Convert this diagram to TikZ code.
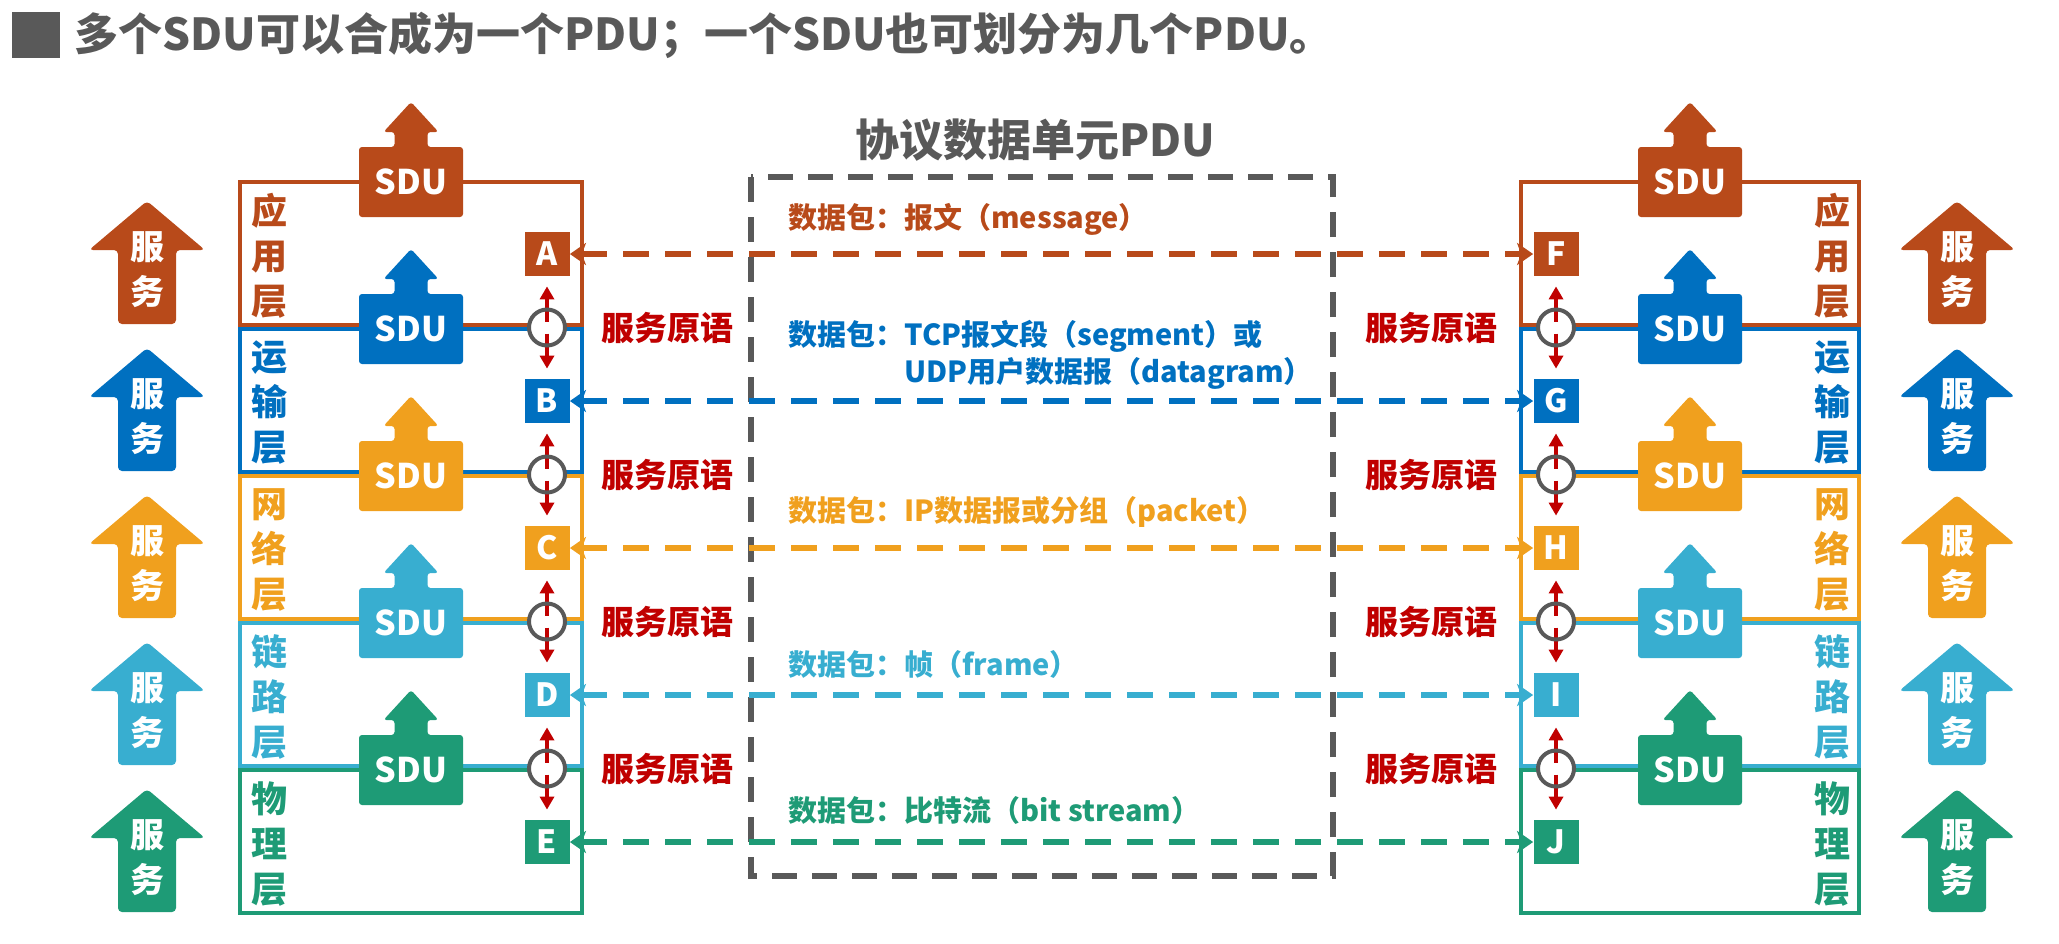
\documentclass[tikz,border=0pt]{standalone}
\usepackage{fontspec}
\setmainfont{Noto Sans CJK SC}
\usetikzlibrary{arrows.meta,calc,positioning}

\definecolor{appc}{RGB}{184,74,26}
\definecolor{trac}{RGB}{0,112,192}
\definecolor{netc}{RGB}{240,160,30}
\definecolor{linkc}{RGB}{56,174,208}
\definecolor{phyc}{RGB}{30,155,118}
\definecolor{primc}{RGB}{192,0,0}
\definecolor{greyc}{RGB}{89,89,89}

\tikzset{
  layerbox/.style={draw=#1, line width=2pt},
  letterbox/.style={fill=#1, text=white, font=\bfseries\fontsize{16}{16}\selectfont,
    minimum width=22.5pt, minimum height=22pt, inner sep=0pt},
  layerlbl/.style={text=#1, font=\bfseries\fontsize{18}{22.5}\selectfont, align=center, inner sep=0pt},
  pdulbl/.style={text=#1, font=\bfseries\fontsize{14.5}{18.5}\selectfont, align=left, anchor=west, inner sep=0pt},
  pduarrow/.style={draw=#1, line width=3.2pt, dash pattern=on 13pt off 8pt,
    {Stealth[length=8pt,width=11pt,inset=2pt]}-{Stealth[length=8pt,width=11pt,inset=2pt]}},
  primarrow/.style={draw=primc, line width=2pt, -{Triangle[length=6.5pt,width=7pt]}, shorten >=5pt},
  primring/.style={circle, fill=white, minimum size=18pt, inner sep=0pt},
  primlbl/.style={text=primc, font=\bfseries\fontsize{16.5}{16.5}\selectfont, inner sep=0pt},
  sdulbl/.style={text=white, font=\bfseries\fontsize{17}{17}\selectfont, inner sep=0pt},
  servlbl/.style={text=white, font=\bfseries\fontsize{17}{22.5}\selectfont, align=center, inner sep=0pt},
}

\begin{document}
\begin{tikzpicture}[x=0.5pt, y=-0.5pt]
\useasboundingbox (0,0) rectangle (2059,943);

% title line
\fill[greyc] (12,12) rectangle (60,58);
\node[anchor=west, text=greyc, font=\bfseries\fontsize{22}{22}\selectfont, inner sep=0pt] (title) at (74,35)
  {多个SDU可以合成为一个PDU；一个SDU也可划分为几个PDU。};

% PDU frame
\node[text=greyc, font=\bfseries\fontsize{22}{22}\selectfont, inner sep=0pt] (pdutitle) at (1035,140) {协议数据单元PDU};
\draw[greyc, line width=3pt, dash pattern=on 12.5pt off 7.5pt] (751,177) rectangle (1333,876);

% the five layers, both stacks
\foreach \i/\col/\l/\r/\name in {0/appc/A/F/{应\\用\\层},1/trac/B/G/{运\\输\\层},2/netc/C/H/{网\\络\\层},3/linkc/D/I/{链\\路\\层},4/phyc/E/J/{物\\理\\层}}{
  \pgfmathsetmacro\ytop{181+147*\i}
  \draw[layerbox=\col] (240,\ytop+1) rectangle (582,\ytop+144);
  \draw[layerbox=\col] (1521,\ytop+1) rectangle (1859,\ytop+144);
  \node[layerlbl=\col] (ll\i) at (269,\ytop+75) {\name};
  \node[layerlbl=\col] (lr\i) at (1832,\ytop+75) {\name};
  % service arrows
  \foreach \sx/\sd in {147/l,1957/r}{
    \coordinate (s\sd\i) at (\sx,\ytop);
    \fill[\col, rounded corners=2pt] ($(s\sd\i)+(0,20)$) -- ($(s\sd\i)+(58,69)$) -- ($(s\sd\i)+(29,69)$)
      -- ($(s\sd\i)+(29,143)$) -- ($(s\sd\i)+(-29,143)$) -- ($(s\sd\i)+(-29,69)$) -- ($(s\sd\i)+(-58,69)$) -- cycle;
    \node[servlbl] (sv\sd\i) at ($(s\sd\i)+(0,89)$) {服\\务};
  }
  % SDU on top edge
  \foreach \ux/\ud in {411/l,1690/r}{
    \coordinate (u\ud\i) at (\ux,\ytop);
    \fill[\col, rounded corners=1.5pt] ($(u\ud\i)+(0,-79)$) -- ($(u\ud\i)+(27.5,-49)$) -- ($(u\ud\i)+(16.5,-49)$)
      -- ($(u\ud\i)+(16.5,-34)$) -- ($(u\ud\i)+(52,-34)$) -- ($(u\ud\i)+(52,36)$) -- ($(u\ud\i)+(-52,36)$)
      -- ($(u\ud\i)+(-52,-34)$) -- ($(u\ud\i)+(-16.5,-34)$) -- ($(u\ud\i)+(-16.5,-49)$) -- ($(u\ud\i)+(-27.5,-49)$) -- cycle;
    \node[sdulbl] (sdu\ud\i) at ($(u\ud\i)+(0,1)$) {SDU};
  }
  % peer entities
  \node[letterbox=\col] (\l) at (547,\ytop+73) {\l};
  \node[letterbox=\col] (\r) at (1556,\ytop+73) {\r};
  \draw[pduarrow=\col] (\l.east) -- (\r.west);
}

% PDU names
\node[pdulbl=appc] (msg) at (788,219) {数据包：报文（message）};
\node[pdulbl=trac] (seg) at (788,355) {数据包：TCP报文段（segment）或\\\phantom{数据包：}UDP用户数据报（datagram）};
\node[pdulbl=netc] (pkt) at (788,512) {数据包：IP数据报或分组（packet）};
\node[pdulbl=linkc] (frm) at (788,664) {数据包：帧（frame）};
\node[pdulbl=phyc] (bits) at (788,810) {数据包：比特流（bit stream）};

% service primitives between layers
\foreach \u/\v in {A/B,B/C,C/D,D/E,F/G,G/H,H/I,I/J}{
  \node[primring] (ring\u) at ($(\u)!0.5!(\v)$) {};
  \coordinate (gu\u) at ($(ring\u.center)+(0,-6)$);
  \coordinate (gd\u) at ($(ring\u.center)+(0,6)$);
  \draw[primarrow] (gu\u) -- (\u);
  \draw[primarrow] (gd\u) -- (\v);
  \draw[greyc, line width=2pt] (ring\u.center) circle (9pt);
}
\foreach \k in {0,...,3}{
  \node[primlbl] (pl\k) at (667,328+147*\k) {服务原语};
  \node[primlbl] (pr\k) at (1431,328+147*\k) {服务原语};
}
\end{tikzpicture}
\end{document}
